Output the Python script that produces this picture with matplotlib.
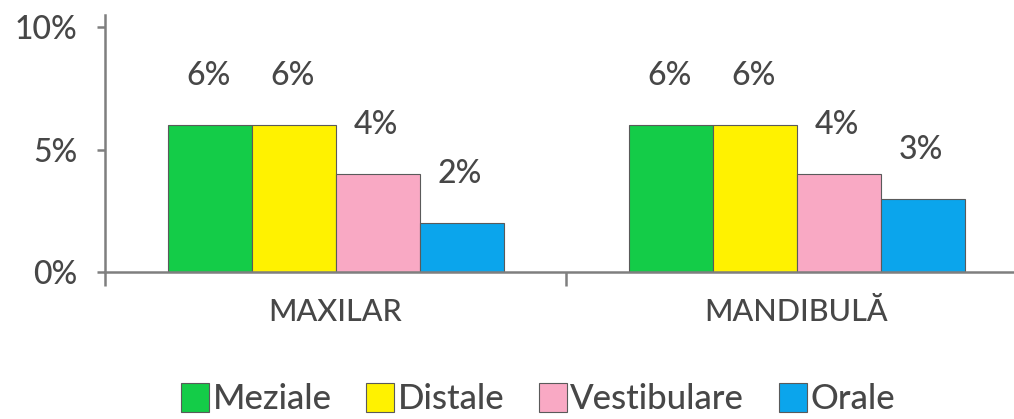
import matplotlib
matplotlib.use("Agg")
import matplotlib.pyplot as plt
from matplotlib.patches import Patch
import numpy as np

categories = ["MAXILAR", "MANDIBULĂ"]
series_names = ["Meziale", "Distale", "Vestibulare", "Orale"]
values = {
    "Meziale": [6, 6],
    "Distale": [6, 6],
    "Vestibulare": [4, 4],
    "Orale": [2, 3],
}
colors = ["#14CC48", "#FFF200", "#F9A9C4", "#0BA5EC"]
yticks = [0, 5, 10]
ytick_labels = ["0%", "5%", "10%"]

plt.rcParams['font.family'] = ['Lato', 'DejaVu Sans']
plt.rcParams['font.weight'] = 'medium'
txt = "#474747"

W, H = 1014, 419
fig = plt.figure(figsize=(W / 100, H / 100), dpi=100)
ax = fig.add_axes([105 / W, 147 / H, 922 / W, 257.25 / H])

x = np.arange(len(categories))
bw = 84 / 461
for i, name in enumerate(series_names):
    pos = x + (i - 1.5) * bw
    ax.bar(pos, values[name], width=bw, color=colors[i], edgecolor="#5a5a5a",
           linewidth=0.8, zorder=2)
    for px, v in zip(pos, values[name]):
        ax.annotate(f"{v}%", (px, v), xytext=(-1, 35), textcoords="offset points",
                    ha="center", va="center", fontsize=23, color=txt)

ax.set_xlim(-0.5, 1.5)
ax.set_ylim(0, 10.5)
for s in ["top", "right"]:
    ax.spines[s].set_visible(False)
for s in ["left", "bottom"]:
    ax.spines[s].set_color("#7f7f7f")
    ax.spines[s].set_linewidth(1.8)

ax.set_yticks(yticks)
ax.set_yticklabels(ytick_labels, fontsize=23, color=txt)
ax.tick_params(axis="y", direction="out", length=6, width=1.8, color="#7f7f7f", pad=14)

ax.set_xticks([-0.5, 0.5, 1.5])
ax.set_xticklabels(["", "", ""])
ax.tick_params(axis="x", which="major", direction="out", length=10, width=1.8, color="#7f7f7f")
ax.set_xticks(x, minor=True)
ax.set_xticklabels(categories, minor=True, fontsize=22, color=txt)
ax.tick_params(axis="x", which="minor", length=0, pad=19)

handles = [Patch(facecolor=c, edgecolor="#5a5a5a", linewidth=0.8) for c in colors]
leg = fig.legend(handles, series_names, loc="center", bbox_to_anchor=(538 / W, 1 - 399 / H),
                 ncol=4, frameon=False, fontsize=25, handlelength=0.8, handleheight=0.9,
                 handletextpad=0.1, columnspacing=1.0, borderaxespad=0, borderpad=0)
for t in leg.get_texts():
    t.set_color(txt)

fig.savefig("out.png", dpi=100)
